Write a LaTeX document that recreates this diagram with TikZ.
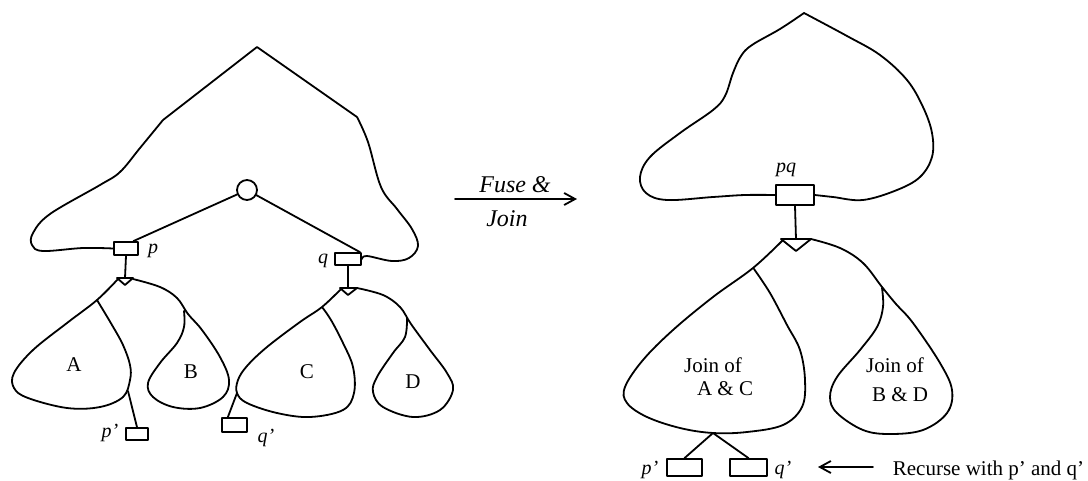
\documentclass[tikz,border=0pt]{standalone}
\usepackage{fontspec}
\setmainfont{Liberation Serif}
\usetikzlibrary{arrows.meta}
\begin{document}
\begin{tikzpicture}[x=1pt,y=-1pt,line width=1.8pt,line join=round,line cap=round,
  box/.style={draw,rectangle,inner sep=0pt,fill=white,line width=1.8pt},
  lab/.style={font=\fontsize{20}{22}\selectfont\itshape,inner sep=0pt,anchor=base},
  txt/.style={font=\fontsize{21}{23}\selectfont,inner sep=0pt},
  curve/.style={smooth,tension=0.6},
  arr/.style={-{Straight Barb[length=11pt,width=12pt,line width=1.8pt]}}]
\useasboundingbox (0,0) rectangle (1088,480);
% ---------------- left picture ----------------
\node[box,minimum width=24pt,minimum height=13pt] (pbox) at (126,248.5) {};
\node[box,minimum width=26pt,minimum height=12pt] (qbox) at (348,259) {};
\node[draw,circle,minimum size=20pt,inner sep=0pt,fill=white] (circ) at (247,190) {};
\node[lab] (plab) at (153,253) {p};
\node[lab] (qlab) at (323,263) {q};
% big blob
\draw plot[curve] coordinates {(pbox.west) (83,248) (43,251) (32,245) (33,233) (50,214) (100,185) (120,172) (140,148) (163,120)}
  -- (257,47) --
  plot[curve] coordinates {(357,117) (368,142) (381,187) (397,209) (412,229) (418,246) (409,258) (392,261) (367,256) (qbox.east)};
\draw (pbox.45) -- (circ);
\draw (circ) -- (qbox.30);
% triangle under p
\coordinate (tp) at (125,278);
\draw (pbox.south) -- (tp);
\draw[fill=white] (117,278) -- (133,278) -- (125,285) -- cycle;
% A
\draw plot[curve] coordinates {(118,279) (97,300) (67,323) (33,350) (14,373) (14,388) (28,398) (67,408) (100,407) (123,397) (130,380) (130,365) (123,345) (112,325) (97,300)};
\node[box,minimum width=22pt,minimum height=12pt] (ppbox) at (137,434) {};
\node[lab] (pplab) at (110,437) {p'};
\draw (128,391) -- (ppbox.north);
% B
\draw plot[curve] coordinates {(133,279) (160,287) (177,298) (188,314) (202,330) (220,357) (229,380) (223,397) (200,408) (173,407) (153,397) (148,383) (160,363) (177,343) (184,327) (184,311)};
\node[txt] (Alab) at (74,365) {A};
\node[txt] (Blab) at (191,372) {B};
% triangle under q
\coordinate (tq) at (348,288);
\draw (qbox.south) -- (tq);
\draw[fill=white] (340,288) -- (357,288) -- (348,295) -- cycle;
% C
\draw plot[curve] coordinates {(341,289) (322,307) (300,322) (267,347) (247,366) (238,380) (237,393) (247,403) (277,413) (310,417) (343,410) (354,393) (353,367) (343,343) (331,320) (322,307)};
\node[box,minimum width=25pt,minimum height=14pt] (qqbox) at (234.5,425) {};
\node[lab] (qqlab) at (266,442) {q'};
\draw (237,393) -- (qqbox.130);
% D
\draw plot[curve] coordinates {(357,288) (383,295) (400,307) (411,324) (430,350) (447,373) (453,390) (440,410) (413,417) (383,407) (373,392) (377,377) (393,353) (405,337) (407,318)};
\node[txt] (Clab) at (307,372) {C};
\node[txt] (Dlab) at (413,382) {D};
% ---------------- middle arrow ----------------
\coordinate (m1) at (455,199);
\coordinate (m2) at (577,199);
\draw[arr] (m1) -- (m2);
\node[font=\fontsize{24}{26}\selectfont\itshape,inner sep=0pt] (fuse) at (515,185) {Fuse \&};
\node[font=\fontsize{24}{26}\selectfont\itshape,inner sep=0pt] (join) at (507,219) {Join};
% ---------------- right picture ----------------
\node[box,minimum width=38pt,minimum height=20pt] (pqbox) at (795,195) {};
\node[lab] (pqlab) at (786,172) {pq};
\draw plot[curve] coordinates {(pqbox.west) (745,195) (713,197) (667,200) (646,193) (640,177) (650,157) (680,133) (713,110) (725,96) (733,73) (741,56) (752,45) (780,29) (804,13)}
  -- plot[curve] coordinates {(804,13) (847,36) (880,55) (907,80) (923,107) (932,133) (932,157) (920,177) (897,190) (863,200) (833,197) (pqbox.east)};
\coordinate (tr) at (796,239);
\draw (pqbox.south) -- (tr);
\draw[fill=white] (781,239) -- (811,239) -- (796,251) -- cycle;
% join of A & C
\draw plot[curve] coordinates {(783,240) (753,268) (713,297) (673,330) (643,360) (625,387) (627,403) (647,417) (680,428) (713,433) (747,432) (783,425) (802,407) (805,380) (800,350) (787,325) (770,293) (754,269)};
\coordinate (bot) at (713,433);
\node[box,minimum width=35pt,minimum height=17pt] (ppR) at (684.5,467.5) {};
\node[box,minimum width=37pt,minimum height=17pt] (qqR) at (748.5,467.5) {};
\draw (bot) -- (ppR.north);
\draw (bot) -- (qqR.north);
\node[lab] (ppRlab) at (650,474) {p'};
\node[lab] (qqRlab) at (783,474) {q'};
% join of B & D
\draw plot[curve] coordinates {(811,239) (840,248) (863,263) (882,287) (896,304) (913,323) (940,363) (952,390) (947,413) (923,430) (890,434) (863,430) (837,413) (830,397) (837,377) (860,350) (877,327) (883,307) (882,288)};
\node[txt] (jac1) at (713,365) {Join of};
\node[txt] (jac2) at (725,389) {A \& C};
\node[txt] (jbd1) at (895,365) {Join of};
\node[txt] (jbd2) at (900,395) {B \& D};
% recurse arrow
\coordinate (r1) at (873,467);
\coordinate (r2) at (818,467);
\draw[arr] (r1) -- (r2);
\node[txt,anchor=base west] (rec) at (892,475) {Recurse with p' and q'};
\end{tikzpicture}
\end{document}
